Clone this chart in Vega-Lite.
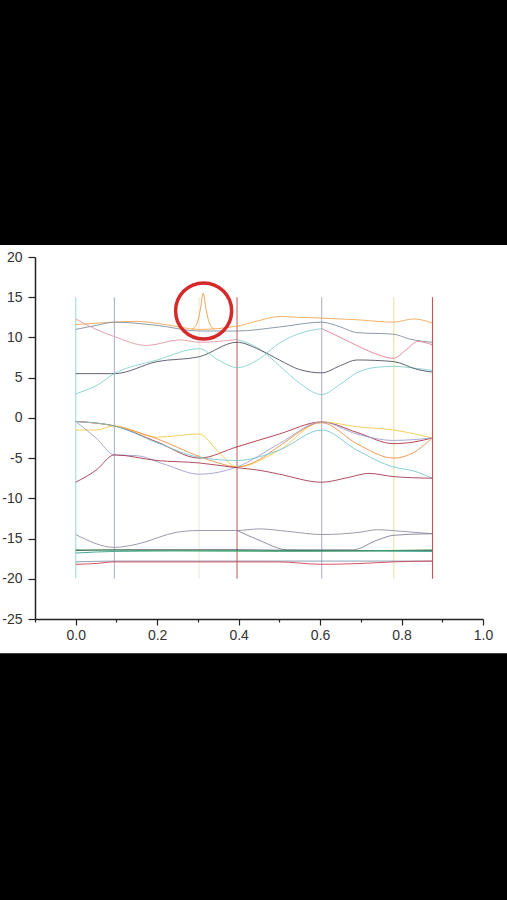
{
"$schema": "https://vega.github.io/schema/vega-lite/v6.json",
"width": 448, "height": 362,
"autosize": {"type": "none"},
"padding": {"left": 35, "top": 257, "right": 24, "bottom": 281},
"background": "black",
"config": {"view": {"stroke": null}},
"datasets": {
"panel": [{"x1": -0.2, "x2": 1.08, "y1": 21.5, "y2": -29.25}],
"kpts": [
{"v": "v0", "k": 0, "lo": -20, "hi": 15},
{"v": "v1", "k": 0.095, "lo": -20, "hi": 15},
{"v": "v2", "k": 0.303, "lo": -20, "hi": 15},
{"v": "v3", "k": 0.396, "lo": -20, "hi": 15},
{"v": "v4", "k": 0.604, "lo": -20, "hi": 15},
{"v": "v5", "k": 0.781, "lo": -20, "hi": 15},
{"v": "v6", "k": 0.876, "lo": -20, "hi": 15}
],
"ring": [{"k": 0.314, "E": 13.3}],
"bands": [
{"b":"UA","k":0,"E":11.6},{"b":"UA","k":0.095,"E":11.9},{"b":"UA","k":0.15,"E":12.0},{"b":"UA","k":0.22,"E":11.6},{"b":"UA","k":0.303,"E":11.0},{"b":"UA","k":0.396,"E":11.4},{"b":"UA","k":0.45,"E":12.1},{"b":"UA","k":0.5,"E":12.6},{"b":"UA","k":0.55,"E":12.5},{"b":"UA","k":0.604,"E":12.4},{"b":"UA","k":0.69,"E":12.2},{"b":"UA","k":0.78,"E":11.9},{"b":"UA","k":0.83,"E":12.3},{"b":"UA","k":0.875,"E":11.8},
{"b":"UB","k":0,"E":11.0},{"b":"UB","k":0.05,"E":11.5},{"b":"UB","k":0.095,"E":11.9},{"b":"UB","k":0.2,"E":11.5},{"b":"UB","k":0.303,"E":10.8},{"b":"UB","k":0.396,"E":10.8},{"b":"UB","k":0.5,"E":11.3},{"b":"UB","k":0.604,"E":11.9},{"b":"UB","k":0.65,"E":11.3},{"b":"UB","k":0.69,"E":10.6},{"b":"UB","k":0.78,"E":10.4},{"b":"UB","k":0.82,"E":9.8},{"b":"UB","k":0.875,"E":9.4},
{"b":"UC1","k":0,"E":12.3},{"b":"UC1","k":0.05,"E":11.0},{"b":"UC1","k":0.095,"E":10.1},{"b":"UC1","k":0.174,"E":9.0},{"b":"UC1","k":0.256,"E":9.7},{"b":"UC1","k":0.303,"E":9.4},{"b":"UC1","k":0.396,"E":9.75},
{"b":"UC2","k":0.396,"E":9.75},{"b":"UC2","k":0.45,"E":8.6},{"b":"UC2","k":0.5,"E":6.5},{"b":"UC2","k":0.55,"E":4.3},{"b":"UC2","k":0.604,"E":2.9},{"b":"UC2","k":0.65,"E":4.2},{"b":"UC2","k":0.69,"E":5.6},{"b":"UC2","k":0.74,"E":6.3},{"b":"UC2","k":0.78,"E":6.4},{"b":"UC2","k":0.83,"E":6.2},{"b":"UC2","k":0.875,"E":5.9},
{"b":"UD","k":0,"E":5.5},{"b":"UD","k":0.095,"E":5.5},{"b":"UD","k":0.2,"E":7.0},{"b":"UD","k":0.303,"E":7.6},{"b":"UD","k":0.396,"E":9.4},{"b":"UD","k":0.45,"E":8.5},{"b":"UD","k":0.5,"E":7.2},{"b":"UD","k":0.55,"E":6.0},{"b":"UD","k":0.604,"E":5.6},{"b":"UD","k":0.65,"E":6.5},{"b":"UD","k":0.69,"E":7.2},{"b":"UD","k":0.78,"E":7.0},{"b":"UD","k":0.84,"E":6.0},{"b":"UD","k":0.875,"E":5.7},
{"b":"UE1","k":0,"E":3.0},{"b":"UE1","k":0.05,"E":4.0},{"b":"UE1","k":0.095,"E":5.5},{"b":"UE1","k":0.2,"E":7.2},{"b":"UE1","k":0.303,"E":8.6},{"b":"UE1","k":0.35,"E":7.2},{"b":"UE1","k":0.396,"E":6.25},{"b":"UE1","k":0.45,"E":7.3},{"b":"UE1","k":0.5,"E":9.3},{"b":"UE1","k":0.55,"E":10.5},{"b":"UE1","k":0.604,"E":11.1},
{"b":"UE2","k":0.604,"E":11.1},{"b":"UE2","k":0.65,"E":10.0},{"b":"UE2","k":0.69,"E":9.0},{"b":"UE2","k":0.74,"E":7.9},{"b":"UE2","k":0.78,"E":7.4},{"b":"UE2","k":0.81,"E":8.4},{"b":"UE2","k":0.84,"E":9.5},{"b":"UE2","k":0.875,"E":9.1},
{"b":"SP","k":0.285,"E":11.0},{"b":"SP","k":0.298,"E":11.8},{"b":"SP","k":0.306,"E":13.5},{"b":"SP","k":0.313,"E":15.5},{"b":"SP","k":0.32,"E":13.5},{"b":"SP","k":0.328,"E":11.8},{"b":"SP","k":0.34,"E":11.0},
{"b":"MA","k":0,"E":-0.45},{"b":"MA","k":0.095,"E":-1.0},{"b":"MA","k":0.2,"E":-3.0},{"b":"MA","k":0.303,"E":-5.0},{"b":"MA","k":0.396,"E":-3.6},{"b":"MA","k":0.5,"E":-2.0},{"b":"MA","k":0.604,"E":-0.5},{"b":"MA","k":0.69,"E":-1.8},{"b":"MA","k":0.78,"E":-3.2},{"b":"MA","k":0.83,"E":-3.0},{"b":"MA","k":0.875,"E":-2.5},
{"b":"MB","k":0,"E":-1.5},{"b":"MB","k":0.05,"E":-1.5},{"b":"MB","k":0.095,"E":-1.0},{"b":"MB","k":0.2,"E":-2.4},{"b":"MB","k":0.303,"E":-2.0},{"b":"MB","k":0.35,"E":-4.2},{"b":"MB","k":0.396,"E":-6.1},{"b":"MB","k":0.5,"E":-4.0},{"b":"MB","k":0.604,"E":-0.5},{"b":"MB","k":0.69,"E":-1.1},{"b":"MB","k":0.78,"E":-1.5},{"b":"MB","k":0.875,"E":-2.5},
{"b":"MC","k":0,"E":-0.45},{"b":"MC","k":0.095,"E":-1.0},{"b":"MC","k":0.2,"E":-2.6},{"b":"MC","k":0.303,"E":-4.8},{"b":"MC","k":0.35,"E":-5.6},{"b":"MC","k":0.396,"E":-6.1},{"b":"MC","k":0.45,"E":-5.2},{"b":"MC","k":0.5,"E":-3.5},{"b":"MC","k":0.604,"E":-0.6},{"b":"MC","k":0.69,"E":-3.2},{"b":"MC","k":0.78,"E":-5.0},{"b":"MC","k":0.83,"E":-4.3},{"b":"MC","k":0.875,"E":-2.5},
{"b":"MD","k":0,"E":-0.45},{"b":"MD","k":0.05,"E":-2.5},{"b":"MD","k":0.095,"E":-4.6},{"b":"MD","k":0.15,"E":-4.7},{"b":"MD","k":0.22,"E":-5.8},{"b":"MD","k":0.303,"E":-7.0},{"b":"MD","k":0.396,"E":-6.1},{"b":"MD","k":0.5,"E":-3.2},{"b":"MD","k":0.604,"E":-0.5},{"b":"MD","k":0.69,"E":-2.0},{"b":"MD","k":0.78,"E":-2.8},{"b":"MD","k":0.83,"E":-2.7},{"b":"MD","k":0.875,"E":-2.5},
{"b":"ME","k":0,"E":-0.45},{"b":"ME","k":0.095,"E":-1.0},{"b":"ME","k":0.2,"E":-3.1},{"b":"ME","k":0.303,"E":-4.9},{"b":"ME","k":0.396,"E":-5.3},{"b":"ME","k":0.5,"E":-4.0},{"b":"ME","k":0.604,"E":-1.5},{"b":"ME","k":0.69,"E":-4.0},{"b":"ME","k":0.78,"E":-6.1},{"b":"ME","k":0.83,"E":-6.6},{"b":"ME","k":0.875,"E":-7.5},
{"b":"MF","k":0,"E":-8.0},{"b":"MF","k":0.05,"E":-6.5},{"b":"MF","k":0.095,"E":-4.6},{"b":"MF","k":0.2,"E":-5.3},{"b":"MF","k":0.303,"E":-5.6},{"b":"MF","k":0.396,"E":-6.2},{"b":"MF","k":0.45,"E":-6.5},{"b":"MF","k":0.5,"E":-7.0},{"b":"MF","k":0.604,"E":-8.0},{"b":"MF","k":0.67,"E":-7.4},{"b":"MF","k":0.72,"E":-6.9},{"b":"MF","k":0.78,"E":-7.3},{"b":"MF","k":0.875,"E":-7.5},
{"b":"LA","k":0,"E":-14.5},{"b":"LA","k":0.095,"E":-16.1},{"b":"LA","k":0.15,"E":-15.7},{"b":"LA","k":0.25,"E":-14.2},{"b":"LA","k":0.303,"E":-14.0},{"b":"LA","k":0.396,"E":-14.0},{"b":"LA","k":0.45,"E":-13.8},{"b":"LA","k":0.52,"E":-14.1},{"b":"LA","k":0.604,"E":-14.5},{"b":"LA","k":0.7,"E":-14.2},{"b":"LA","k":0.74,"E":-13.9},{"b":"LA","k":0.8,"E":-14.1},{"b":"LA","k":0.875,"E":-14.4},
{"b":"LB","k":0.396,"E":-14.0},{"b":"LB","k":0.45,"E":-15.2},{"b":"LB","k":0.52,"E":-16.4},{"b":"LB","k":0.68,"E":-16.4},{"b":"LB","k":0.74,"E":-15.2},{"b":"LB","k":0.78,"E":-14.6},{"b":"LB","k":0.875,"E":-14.4},
{"b":"LC","k":0,"E":-16.5},{"b":"LC","k":0.095,"E":-16.4},{"b":"LC","k":0.396,"E":-16.4},{"b":"LC","k":0.6,"E":-16.5},{"b":"LC","k":0.875,"E":-16.5},
{"b":"LD","k":0,"E":-16.8},{"b":"LD","k":0.095,"E":-16.6},{"b":"LD","k":0.4,"E":-16.5},{"b":"LD","k":0.875,"E":-16.6},
{"b":"LE","k":0,"E":-16.4},{"b":"LE","k":0.2,"E":-16.5},{"b":"LE","k":0.5,"E":-16.6},{"b":"LE","k":0.875,"E":-16.4},
{"b":"LF","k":0,"E":-17.9},{"b":"LF","k":0.095,"E":-17.8},{"b":"LF","k":0.875,"E":-17.8},
{"b":"LG","k":0,"E":-18.2},{"b":"LG","k":0.05,"E":-18.1},{"b":"LG","k":0.095,"E":-17.9},{"b":"LG","k":0.5,"E":-17.9},{"b":"LG","k":0.6,"E":-18.2},{"b":"LG","k":0.7,"E":-18.1},{"b":"LG","k":0.78,"E":-17.9},{"b":"LG","k":0.875,"E":-17.8}
]
},
"layer": [
{
"data": {"name": "panel"},
"mark": {"type": "rect", "fill": "white", "stroke": null},
"encoding": {
"x": {"field": "x1", "type": "quantitative",
 "scale": {"domain": [-0.1, 1.0], "nice": false, "zero": false},
 "axis": {"title": null, "grid": false, "zindex": 1,
  "values": [-0.1, 0, 0.1, 0.2, 0.3, 0.4, 0.5, 0.6, 0.7, 0.8, 0.9, 1.0],
  "labelExpr": "(round(datum.value*10)%2===0 && datum.value>-0.05) ? format(datum.value,'.1f') : ''",
  "tickSize": {"condition": {"test": "round(datum.value*10)%2===0", "value": 6}, "value": 3},
  "domainColor": "#222", "domainWidth": 1.5, "tickColor": "#222", "tickWidth": 1.2,
  "labelFont": "Liberation Sans", "labelFontSize": 14, "labelColor": "#333",
  "labelPadding": 3, "labelFlush": false, "labelOverlap": false}},
"x2": {"field": "x2"},
"y": {"field": "y1", "type": "quantitative",
 "scale": {"domain": [-25, 20], "nice": false, "zero": false},
 "axis": {"title": null, "grid": false, "zindex": 1,
  "values": [-25, -22.5, -20, -17.5, -15, -12.5, -10, -7.5, -5, -2.5, 0, 2.5, 5, 7.5, 10, 12.5, 15, 17.5, 20],
  "labelExpr": "datum.value%5===0 ? ''+datum.value : ''",
  "tickSize": {"condition": {"test": "datum.value%5===0", "value": 7}, "value": 3.5},
  "domainColor": "#222", "domainWidth": 1.5, "tickColor": "#222", "tickWidth": 1.2,
  "labelFont": "Liberation Sans", "labelFontSize": 14, "labelColor": "#333",
  "labelPadding": 6, "labelFlush": false, "labelOverlap": false}},
"y2": {"field": "y2"}
}
},
{
"data": {"name": "kpts"},
"mark": {"type": "rule", "strokeWidth": 1.1, "opacity": 0.85},
"encoding": {
"x": {"field": "k", "type": "quantitative", "title": null},
"y": {"field": "lo", "type": "quantitative", "title": null},
"y2": {"field": "hi"},
"color": {"field": "v", "type": "nominal", "legend": null}
}
},
{
"data": {"name": "bands"},
"mark": {"type": "line", "strokeWidth": 1, "interpolate": "monotone", "opacity": 0.85},
"encoding": {
"x": {"field": "k", "type": "quantitative", "title": null},
"y": {"field": "E", "type": "quantitative", "title": null},
"color": {"field": "b", "type": "nominal", "legend": null,
 "scale": {
  "domain": ["v0","v1","v2","v3","v4","v5","v6","UA","UB","UC1","UC2","UD","UE1","UE2","SP","MA","MB","MC","MD","ME","MF","LA","LB","LC","LD","LE","LF","LG"],
  "range": ["#8fd6d6","#a0a6d0","#e6e6d6","#b84a4a","#a6a6c0","#e2dca0","#c83030","#f2a24a","#7a8a9a","#e090a0","#80cccc","#4a4a5a","#7fd0c8","#e07a8a","#e89a3a","#a8283a","#f0c840","#f08a3a","#9a9ad0","#70c4d0","#a03048","#8a8aa0","#7a7a90","#303838","#2a9a88","#40a060","#7a90a8","#d03848"]}}
}
},
{
"data": {"name": "ring"},
"mark": {"type": "point", "shape": "circle", "filled": false, "size": 3136, "stroke": "#d42a2a", "strokeWidth": 3.5, "opacity": 1},
"encoding": {
"x": {"field": "k", "type": "quantitative", "title": null},
"y": {"field": "E", "type": "quantitative", "title": null}
}
}
]
}
